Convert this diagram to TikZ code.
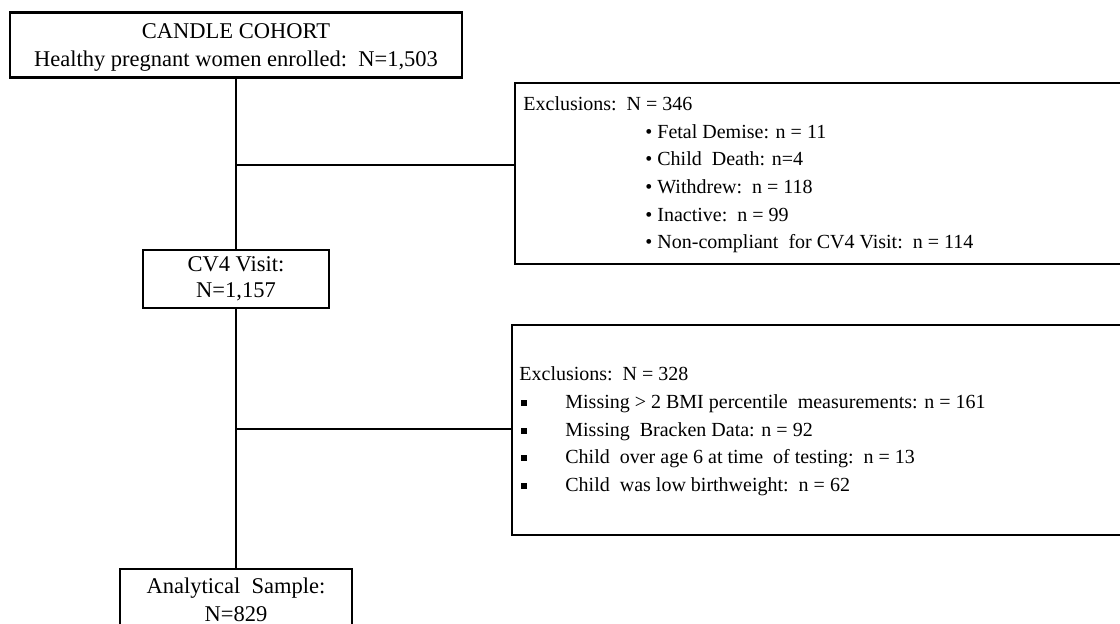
\documentclass[tikz,border=0pt]{standalone}
\usepackage{fontspec}
\setmainfont{Liberation Serif}
\begin{document}
\begin{tikzpicture}[x=0.5pt,y=-0.5pt,
  box/.style={draw,line width=1.3pt,inner sep=0pt,minimum width=#1},
  txt/.style={inner sep=0pt,font=\fontsize{10pt}{12pt}\selectfont},
  bigtxt/.style={inner sep=0pt,font=\fontsize{11.25pt}{13pt}\selectfont},
  link/.style={line width=1.25pt}]
\useasboundingbox (0,0) rectangle (1120,624);
% boxes
\node[box=226pt,minimum height=32.5pt] (cohort) at (236,45) {};
\node[box=307.5pt,minimum height=90.5pt] (ex1) at (822.5,173.5) {};
\node[box=93pt,minimum height=29pt] (cv4) at (236,279) {};
\node[box=309pt,minimum height=105pt] (ex2) at (821,430) {};
\node[box=116pt,minimum height=35.5pt] (final) at (236,604.5) {};
% texts
\node[bigtxt,anchor=base] (c1) at (236,39) {CANDLE COHORT};
\node[bigtxt,anchor=base] (c2) at (236,67) {Healthy pregnant women enrolled:\ \ N=1,503};
\node[bigtxt,anchor=base] (v1) at (236,272) {CV4 Visit:};
\node[bigtxt,anchor=base] (v2) at (236,298) {N=1,157};
\node[bigtxt,anchor=base] (f1) at (236,594) {Analytical\ \ Sample:};
\node[bigtxt,anchor=base] (f2) at (236,621.5) {N=829};
\node[txt,anchor=base west] (e10) at (523,111) {Exclusions:\ \ N = 346};
\node[txt,anchor=base west] (e11) at (645,139) {• Fetal Demise: n = 11};
\node[txt,anchor=base west] (e12) at (645,166) {• Child\ \ Death: n=4};
\node[txt,anchor=base west] (e13) at (645,194) {• Withdrew:\ \ n = 118};
\node[txt,anchor=base west] (e14) at (645,222) {• Inactive:\ \ n = 99};
\node[txt,anchor=base west] (e15) at (645,249) {• Non-compliant\ \ for CV4 Visit:\ \ n = 114};
\newcommand{\sqb}{\makebox[22pt][l]{\rule[1.6pt]{3pt}{3pt}}}
\node[txt,anchor=base west] (e20) at (519,381) {Exclusions:\ \ N = 328};
\node[txt,anchor=base west] (e21) at (521,409) {\sqb Missing > 2 BMI percentile\ \ measurements: n = 161};
\node[txt,anchor=base west] (e22) at (521,437) {\sqb Missing\ \ Bracken Data: n = 92};
\node[txt,anchor=base west] (e23) at (521,464) {\sqb Child\ \ over age 6 at time\ \ of testing:\ \ n = 13};
\node[txt,anchor=base west] (e24) at (521,492) {\sqb Child\ \ was low birthweight:\ \ n = 62};
% connectors
\coordinate (j1) at (236,165);
\coordinate (j2) at (236,429);
\draw[link] (cohort.south) -- (cv4.north);
\draw[link] (cv4.south) -- (final.north);
\draw[link] (j1) -- (ex1.west |- j1);
\draw[link] (j2) -- (ex2.west |- j2);
\end{tikzpicture}
\end{document}
